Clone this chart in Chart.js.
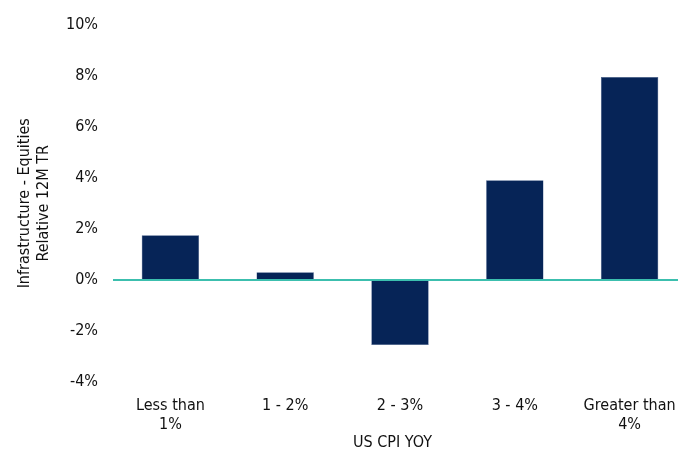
<!DOCTYPE html>
<html>
<head>
<meta charset="utf-8">
<script src="https://cdn.jsdelivr.net/npm/chart.js@4"></script>
<style>
  body { margin: 0; background: #fff; }
  #wrap { width: 678px; height: 452px; }
</style>
</head>
<body>
<div id="wrap"><canvas id="myChart" width="678" height="452"></canvas></div>
<script>
var categories = [['Less than', '1%'], '1 - 2%', '2 - 3%', '3 - 4%', ['Greater than', '4%']];
var values = [1.75, 0.3, -2.55, 3.9, 7.95];
var yTicks = [-4, -2, 0, 2, 4, 6, 8, 10];

var font = "'Liberation Sans Narrow', 'DejaVu Sans Condensed', sans-serif";
Chart.defaults.font.family = font;
Chart.defaults.color = '#111';

// the original's categories run past the right edge of the picture
var stretchX = {
	id: 'stretchX',
	afterLayout: function(chart) {
		var x = chart.scales.x;
		var right = x.right;
		x.right = x.left + 574;
		x.width = 574;
		x.configure();
		x.right = right;
		x.width = right - x.left;
		chart.chartArea.right = 678;
		chart.chartArea.width = 678 - chart.chartArea.left;
	}
};

var ctx = document.getElementById('myChart').getContext('2d');
var myChart = new Chart(ctx, {
	type: 'bar',
	data: {
		labels: categories,
		datasets: [{
			data: values,
			backgroundColor: '#062457',
			borderColor: '#3b5585',
			borderWidth: 0.5,
			barPercentage: 0.5,
			categoryPercentage: 1
		}]
	},
	options: {
		responsive: false,
		animation: { duration: 0 },
		layout: { padding: { top: 19, right: 6, left: 15, bottom: 0 } },
		plugins: { legend: { display: false }, tooltip: { enabled: false } },
		scales: {
			x: {
				grid: { display: false, drawTicks: false },
				border: { display: false },
				ticks: { font: { size: 16 }, padding: 14, maxRotation: 0, autoSkip: false },
				title: { display: true, text: 'US CPI YOY', font: { size: 16 }, padding: { top: 0, bottom: 0 } },
				afterFit: function(axis) { axis.height = 70; }
			},
			y: {
				min: -4, max: 10,
				afterBuildTicks: function(axis) { axis.ticks = yTicks.map(function(v) { return { value: v }; }); },
				grid: {
					drawTicks: false,
					color: function(c) { return c.tick && c.tick.value === 0 ? '#3cbfae' : 'rgba(0,0,0,0)'; },
					lineWidth: 2
				},
				border: { display: false },
				ticks: { font: { size: 16 }, padding: 15, callback: function(v) { return v + '%'; } },
				title: { display: true, text: ['Infrastructure - Equities', 'Relative 12M TR'], font: { size: 16 }, padding: { top: 0, bottom: 0 } },
				afterFit: function(axis) { axis.width = 98; }
			}
		}
	},
	plugins: [stretchX]
});
</script>
</body>
</html>
